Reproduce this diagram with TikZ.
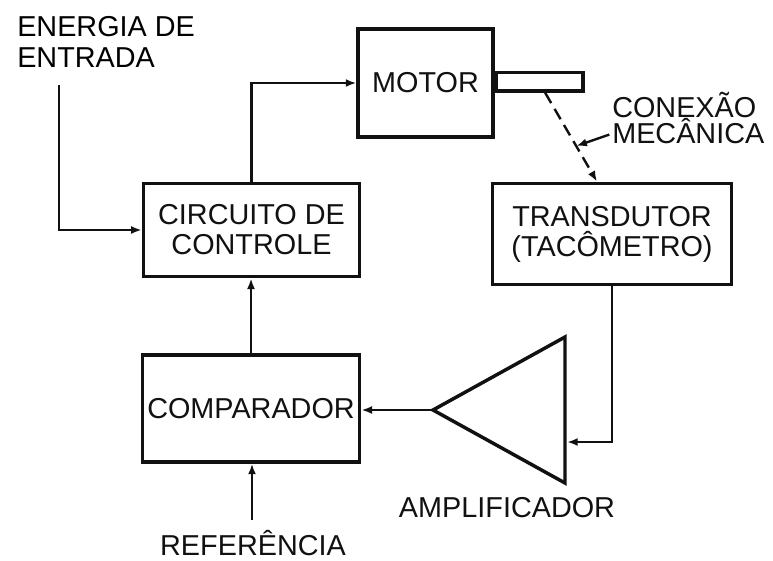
\documentclass[tikz,border=0pt]{standalone}
\usepackage{fontspec}
\setmainfont{Liberation Sans}
\usetikzlibrary{calc, arrows.meta, positioning}
\definecolor{cink}{HTML}{111111}

\begin{document}
\begin{tikzpicture}[x=0.75pt, y=-0.75pt, font=\fontsize{21.6}{22.5}\selectfont\color{cink},
    box/.style={rectangle, draw=cink, line width=2.6pt, align=center, inner sep=0pt},
    arr/.style={-{Latex[length=8pt, width=6pt]}, line width=1.8pt, draw=cink},
    lbl/.style={inner sep=0pt, align=left}]
    \useasboundingbox (0,0) rectangle (773,560);
    % blocks
    \node (motor) [box, minimum width=101pt, minimum height=81pt] at (425.5,83) {MOTOR};
    \node (shaft) [box, minimum width=65pt, minimum height=14pt, anchor=west] at ([yshift=1pt]motor.east) {};
    \node (circ) [box, minimum width=162pt, minimum height=70pt] at (251.5,230) {CIRCUITO DE\\CONTROLE};
    \node (comp) [box, minimum width=163pt, minimum height=80pt] at (251,408.5) {COMPARADOR};
    \node (trans) [box, minimum width=179pt, minimum height=76pt] at (612,234) {TRANSDUTOR\\(TACÔMETRO)};
    \draw[cink, line width=2.6pt, line join=miter] (565,337) -- (565,483) -- (433,410) coordinate (amp) -- cycle;
    \coordinate (ampin) at (567,442);
    % labels
    \node (energ) [lbl, anchor=north west, font=\fontsize{21.6}{23.25}\selectfont] at (17,16) {ENERGIA DE\\ENTRADA};
    \node (conex) [lbl, anchor=base west] at (612,117) {CONEXÃO};
    \node (mecan) [lbl, anchor=base west] at (612,143) {MECÂNICA};
    \node (amplbl) [lbl, anchor=base] at (507,517) {AMPLIFICADOR};
    \node (ref) [lbl, anchor=base] at (253,555) {REFERÊNCIA};
    \coordinate (ein) at (59,85);
    \coordinate (refin) at (252,520);
    \coordinate (shaftpt) at ($(shaft.south)+(5.5,0)$);
    % connectors
    \draw[arr] (ein) |- (circ.west);
    \draw[arr] (circ.north) |- (motor.west);
    \draw[arr] (comp.north) -- (comp.north |- circ.south);
    \draw[arr] (refin) -- (refin |- comp.south);
    \draw[arr] (trans.south) |- (ampin);
    \draw[arr] (amp) -- (amp -| comp.east);
    \draw[arr, dash pattern=on 9pt off 5pt] (shaftpt) -- (trans.106) coordinate[pos=0.6] (mecpt);
    \draw[arr] ([xshift=-2pt, yshift=-3pt]mecan.west) -- (mecpt);
\end{tikzpicture}
\end{document}
